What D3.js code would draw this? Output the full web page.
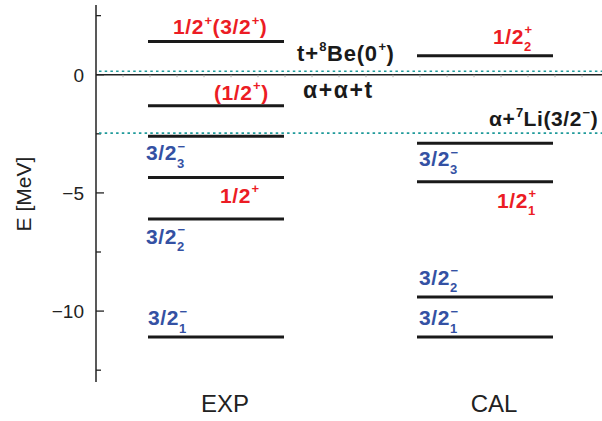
<!DOCTYPE html>
<html><head><meta charset="utf-8">
<script src="https://cdn.jsdelivr.net/npm/d3@7"></script>
<style>
body{margin:0;background:#fff;}
svg{display:block;}
.ax{font-family:"Liberation Sans",Arial,sans-serif;fill:#222;}
.lab{font-family:"Liberation Sans",Arial,sans-serif;font-weight:bold;}
</style></head>
<body><svg id="c" width="602" height="421"></svg>
<script>
// ---- data ----
const expLevels = [1.41, -1.31, -2.6, -4.35, -6.1, -11.1];
const calLevels = [0.8, -2.9, -4.53, -9.4, -11.1];
const thresholdEnergies = [0.15, -2.47];          // t+8Be(0+), α+7Li(3/2−)
const majorTicks = [0, -5, -10];
const minorTicks = [2.5, -2.5, -7.5, -12.5];
const tickLabels = ["0", "\u22125", "\u221210"];
const columns = ["EXP", "CAL"];
// label segments: plain text, "^sup", "_sub", "^sup_sub" (stacked)
const expLabels = [
  ["1/2", "^+", "(3/2", "^+", ")"],
  ["(1/2", "^+", ")"],
  ["3/2", "^\u2212_3"],
  ["1/2", "^+"],
  ["3/2", "^\u2212_2"],
  ["3/2", "^\u2212_1"]
];
const expParity = ["+", "+", "-", "+", "-", "-"];
const calLabels = [
  ["1/2", "^+_2"],
  ["3/2", "^\u2212_3"],
  ["1/2", "^+_1"],
  ["3/2", "^\u2212_2"],
  ["3/2", "^\u2212_1"]
];
const calParity = ["+", "-", "+", "-", "-"];
const thresholdLabels = [
  ["t+", "^8", "Be(0", "^+", ")"],
  ["\u03b1+\u03b1+t"],
  ["\u03b1+", "^7", "Li(3/2", "^\u2212", ")"]
];

// ---- layout ----
const svg = d3.select("#c");
const y = d3.scaleLinear().domain([-13, 2.95]).range([382, 5]);
const colX = {EXP:[148, 284], CAL:[417, 553]};
const axisX = 96;

// axis
svg.append("line").attr("x1",axisX).attr("x2",axisX).attr("y1",y(2.95)).attr("y2",y(-13))
  .attr("stroke","#222").attr("stroke-width",1.5);
majorTicks.forEach((t,i)=>{
  svg.append("line").attr("x1",axisX).attr("x2",axisX+8).attr("y1",y(t)).attr("y2",y(t)).attr("stroke","#222").attr("stroke-width",1.3);
  svg.append("text").attr("class","ax").attr("x",axisX-12).attr("y",y(t)+7).attr("text-anchor","end")
    .attr("font-size",19).text(tickLabels[i]);
});
minorTicks.forEach(t=>{
  svg.append("line").attr("x1",axisX).attr("x2",axisX+5).attr("y1",y(t)).attr("y2",y(t)).attr("stroke","#222").attr("stroke-width",1.3);
});
svg.append("text").attr("class","ax").attr("font-size",21)
  .attr("transform",`translate(31,${y(-5.05)}) rotate(-90)`).attr("text-anchor","middle").text("E [MeV]");

// zero line with small ticks
svg.append("line").attr("x1",axisX).attr("x2",602).attr("y1",y(0)).attr("y2",y(0)).attr("stroke","#222").attr("stroke-width",1.5);
d3.range(axisX+27, 602, 27).forEach(px=>{
  svg.append("line").attr("x1",px).attr("x2",px).attr("y1",y(0)).attr("y2",y(0)+2.5).attr("stroke","#aaa").attr("stroke-width",1);
});

// thresholds (dotted teal)
thresholdEnergies.forEach(e=>{
  svg.append("line").attr("x1",axisX+3).attr("x2",602).attr("y1",y(e)).attr("y2",y(e))
    .attr("stroke","#1f9a9a").attr("stroke-width",1.6).attr("stroke-dasharray","2.5,3.2");
});

// levels
function levels(col, arr){
  svg.selectAll(null).data(arr).enter().append("line")
    .attr("x1",colX[col][0]).attr("x2",colX[col][1])
    .attr("y1",d=>y(d)).attr("y2",d=>y(d))
    .attr("stroke","#1a1a1a").attr("stroke-width",3);
}
levels("EXP", expLevels);
levels("CAL", calLevels);

// rich text
function rich(x0, yb, segs, color, size, ls){
  let cx = x0;
  const supSize = Math.round(size*0.6), subSize = Math.round(size*0.64);
  segs.forEach(s=>{
    if (s[0]==="^" || s[0]==="_"){
      const m = s.match(/^(?:\^([^_]*))?(?:_(.*))?$/);
      let w = 0;
      if (m[1]){
        const t = svg.append("text").attr("class","lab").attr("x",cx+0.5).attr("y",yb-size*0.45)
          .attr("font-size",supSize).attr("fill",color).text(m[1]);
        w = Math.max(w, t.node().getComputedTextLength());
      }
      if (m[2]){
        const t = svg.append("text").attr("class","lab").attr("x",cx).attr("y",yb+size*0.36)
          .attr("font-size",subSize).attr("fill",color).text(m[2]);
        w = Math.max(w, t.node().getComputedTextLength());
      }
      cx += w + 1;
    } else {
      const t = svg.append("text").attr("class","lab").attr("x",cx).attr("y",yb)
        .attr("font-size",size).attr("letter-spacing",ls).attr("fill",color).text(s);
      cx += t.node().getComputedTextLength();
    }
  });
}
const RED = "#ec1c24", BLUE = "#3451a3";
// label placement: [x, dy from level]
const expPlace = [[173,-7],[214,-6],[146,24],[220,25],[146,25],[148,-12]];
const calPlace = [[493,-12],[419,23],[497,26],[419,-12],[419,-12]];
expLabels.forEach((l,i)=>rich(expPlace[i][0], y(expLevels[i])+expPlace[i][1], l, expParity[i]==="+"?RED:BLUE, 21, 0.6));
calLabels.forEach((l,i)=>rich(calPlace[i][0], y(calLevels[i])+calPlace[i][1], l, calParity[i]==="+"?RED:BLUE, 21, 0.6));

// threshold labels
rich(297, y(thresholdEnergies[0])-10, thresholdLabels[0], "#1a1a1a", 22, 0.8);
rich(303, y(0)+23, thresholdLabels[1], "#1a1a1a", 23, 1.6);
rich(489, y(thresholdEnergies[1])-7, thresholdLabels[2], "#1a1a1a", 21, 0.6);

// column labels
columns.forEach(c=>{
  svg.append("text").attr("class","ax").attr("x",(colX[c][0]+colX[c][1])/2+9).attr("y",412)
    .attr("text-anchor","middle").attr("font-size",24).text(c);
});
</script></body></html>
